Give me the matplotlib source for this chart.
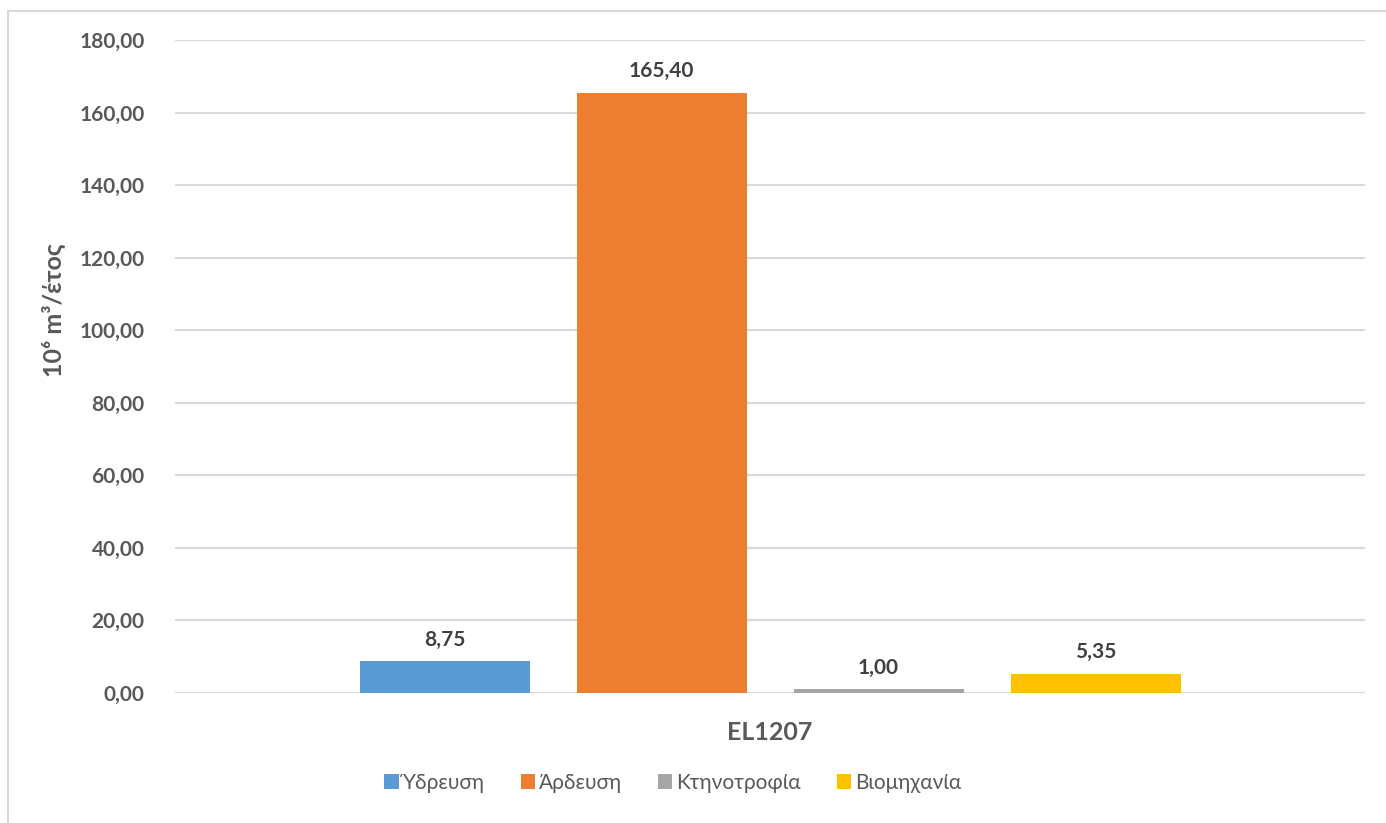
import matplotlib
matplotlib.use("Agg")
import matplotlib.pyplot as plt
from matplotlib.lines import Line2D
from matplotlib.patches import Patch

categories = ["EL1207"]
series = ["Ύδρευση", "Άρδευση", "Κτηνοτροφία", "Βιομηχανία"]
values = [8.75, 165.40, 1.00, 5.35]
colors = ["#5B9BD5", "#ED7D31", "#A5A5A5", "#FFC000"]
yticks = [0, 20, 40, 60, 80, 100, 120, 140, 160, 180]

plt.rcParams['font.family'] = ['Lato', 'DejaVu Sans']

W, H = 1386, 823
fig = plt.figure(figsize=(W / 100, H / 100), dpi=100)
ax = fig.add_axes([175 / W, 1 - 693 / H, (1365 - 175) / W, (693 - 40) / H])

bw = 170 / 1190
step = 217 / 1190
for i, (s, v, c) in enumerate(zip(series, values, colors)):
    x = 0 + (i - 1.5) * step
    ax.bar(x, v, width=bw, color=c, label=s, zorder=3)
    ax.text(x, v + 3.2, f"{v:.2f}".replace(".", ","), ha="center", va="bottom",
            fontsize=15, fontweight="bold", color="#404040")

ax.set_xlim(-0.5, 0.5)
ax.set_ylim(0, 180)
ax.set_yticks(yticks)
ax.set_yticklabels([f"{t:.2f}".replace(".", ",") for t in yticks],
                   fontsize=15, fontweight="bold", color="#595959")
ax.set_xticks([0])
ax.set_xticklabels(categories, fontsize=18, fontweight="bold", color="#595959")
ax.tick_params(axis="both", length=0)
ax.tick_params(axis="y", pad=22)
ax.tick_params(axis="x", pad=20)
ax.grid(axis="y", color="#D9D9D9", linewidth=1.5, zorder=0)
for sp in ax.spines.values():
    sp.set_visible(False)

fig.text(54 / W, 1 - 310 / H, "10⁶ m³/έτος", rotation=90, ha="center", va="center",
         fontsize=18, fontweight="bold", color="#595959")

handles = [Patch(facecolor=c, edgecolor="none") for c in colors]
fig.legend(handles, series, loc="center", bbox_to_anchor=(673 / W, 1 - 783 / H),
           ncol=4, frameon=False, fontsize=15, handlelength=0.7, handleheight=0.7,
           handletextpad=0.2, columnspacing=1.7, labelcolor="#595959")

# chart border (top and left visible)
fig.add_artist(Line2D([8 / W, 1.0], [1 - 11 / H, 1 - 11 / H], color="#D9D9D9", lw=1.5,
                      transform=fig.transFigure))
fig.add_artist(Line2D([8 / W, 8 / W], [0, 1 - 11 / H], color="#D9D9D9", lw=1.5,
                      transform=fig.transFigure))

fig.savefig("out.png", dpi=100)
